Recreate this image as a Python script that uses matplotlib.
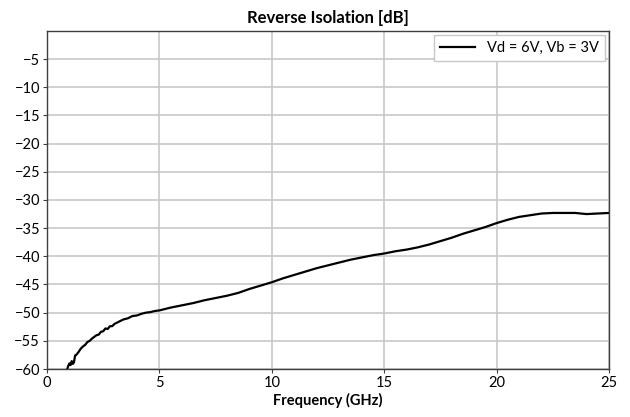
import matplotlib
matplotlib.use("Agg")
import matplotlib.pyplot as plt

# ---------------------------------------------------------------------------
# Data
# ---------------------------------------------------------------------------
freq_ghz = [
    0.9, 0.95, 1.0, 1.05, 1.1, 1.15, 1.2, 1.25, 1.3, 1.4, 1.5, 1.6, 1.7,
    1.8, 1.9, 2.0, 2.1, 2.2, 2.3, 2.4, 2.5, 2.6, 2.7, 2.8, 2.9, 3.0, 3.2,
    3.4, 3.6, 3.8, 4.0, 4.2, 4.4, 4.6, 4.8, 5.0, 5.5, 6.0, 6.5, 7.0, 7.5,
    8.0, 8.5, 9.0, 9.5, 10.0, 10.5, 11.0, 11.5, 12.0, 12.5, 13.0, 13.5,
    14.0, 14.5, 15.0, 15.5, 16.0, 16.5, 17.0, 17.5, 18.0, 18.5, 19.0,
    19.5, 20.0, 20.5, 21.0, 21.5, 22.0, 22.5, 23.0, 23.5, 24.0, 24.5, 25.0,
]
s12_db = [
    -60.0, -59.4, -59.0, -59.3, -58.6, -59.1, -58.8, -57.6, -57.5, -57.0,
    -56.4, -56.0, -55.7, -55.2, -55.0, -54.6, -54.3, -54.0, -53.9, -53.4,
    -53.3, -52.8, -52.9, -52.4, -52.4, -52.0, -51.6, -51.2, -51.0, -50.6,
    -50.5, -50.2, -50.0, -49.9, -49.7, -49.6, -49.1, -48.7, -48.3, -47.8,
    -47.4, -47.0, -46.5, -45.8, -45.2, -44.6, -43.9, -43.3, -42.7, -42.1,
    -41.6, -41.1, -40.6, -40.2, -39.8, -39.5, -39.1, -38.8, -38.4, -37.9,
    -37.3, -36.7, -36.0, -35.4, -34.8, -34.1, -33.5, -33.0, -32.7, -32.4,
    -32.3, -32.3, -32.3, -32.5, -32.4, -32.3,
]
series_label = "Vd = 6V, Vb = 3V"
title = "Reverse Isolation [dB]"
xlabel = "Frequency (GHz)"

plt.rcParams["font.family"] = ["Lato", "DejaVu Sans"]
plt.rcParams["font.size"] = 10.5

fig = plt.figure(figsize=(6.3, 4.17), dpi=100)
ax = fig.add_axes([0.0746, 0.1151, 0.8921, 0.8106])

ax.plot(freq_ghz, s12_db, color="black", lw=1.6, label=series_label)

ax.set_xlim(0, 25)
ax.set_ylim(-60, 0)
ax.set_xticks(range(0, 26, 5))
ax.set_yticks(range(-60, 0, 5))
ax.set_yticklabels([str(v).replace("-", "\u2212") for v in range(-60, 0, 5)])

ax.grid(True, color="#c8c8c8", lw=1.2)
ax.set_axisbelow(True)
for sp in ax.spines.values():
    sp.set_color("#404040")
    sp.set_linewidth(1.0)
ax.tick_params(direction="out", length=3, width=0.8, color="#404040", pad=2)

ax.set_title(title, fontsize=12, fontweight="bold", pad=6)
ax.set_xlabel(xlabel, fontsize=10.5, fontweight="bold", labelpad=2)

leg = ax.legend(loc="upper right", fontsize=10.5, handlelength=2.4,
                borderaxespad=0.3, fancybox=False, framealpha=1)
leg.get_frame().set_edgecolor("#c8c8c8")

fig.savefig("out.png", dpi=100)
